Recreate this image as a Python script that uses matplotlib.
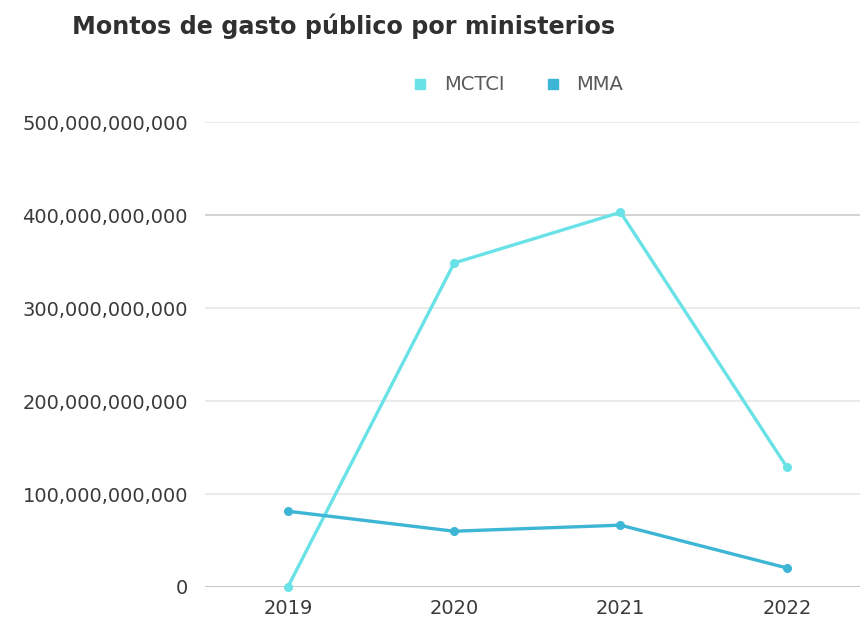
import matplotlib
matplotlib.use("Agg")
import matplotlib.pyplot as plt
from matplotlib.lines import Line2D
from matplotlib.ticker import FuncFormatter

years = ["2019", "2020", "2021", "2022"]
mctci = [0, 348.5e9, 403e9, 129e9]
mma = [81.5e9, 60e9, 66.5e9, 20.5e9]
series_names = ["MCTCI", "MMA"]
colors = ["#69e2e7", "#3db6d5"]

TEXT = "#3a3a3a"
plt.rcParams["font.family"] = ["DejaVu Sans"]

fig = plt.figure(figsize=(8.6, 6.24), dpi=100)
ax = fig.add_axes([0.238, 0.0593, 0.762, 0.745])

x = range(len(years))
for vals, c in zip([mctci, mma], colors):
    ax.plot(x, vals, color=c, lw=2.4, marker="o", ms=5.5, solid_capstyle="round",
            zorder=3, clip_on=False)

ax.set_xlim(-0.5, 3.44)
ax.set_ylim(0, 500e9)
ax.set_yticks([0, 100e9, 200e9, 300e9, 400e9, 500e9])
ax.yaxis.set_major_formatter(FuncFormatter(lambda v, _: f"{v:,.0f}"))
ax.set_xticks(list(x))
ax.set_xticklabels(years)

ax.grid(axis="y", color="#e6e6e6", lw=1.2)
ax.set_axisbelow(True)
for s in ax.spines.values():
    s.set_visible(False)
ax.axhline(0, color="#c8c8c8", lw=1.5, zorder=1)
ax.axhline(400e9, color="#d0d0d0", lw=1.2, zorder=1)
ax.tick_params(length=0, labelsize=14, labelcolor=TEXT)
ax.tick_params(axis="y", pad=12)
ax.tick_params(axis="x", pad=9)

fig.text(0.084, 0.958, "Montos de gasto público por ministerios", fontsize=17.2,
         fontweight="bold", color="#303030", va="center", ha="left")

handles = [Line2D([], [], ls="", marker="s", ms=7, color=c) for c in colors]
fig.legend(handles, series_names, loc="center", bbox_to_anchor=(0.601, 0.864),
           ncol=2, frameon=False, fontsize=14, labelcolor="#5a5a5a",
           handletextpad=0.7, columnspacing=2.0, handlelength=1.0)

fig.savefig("out.png", dpi=100, facecolor="white")
